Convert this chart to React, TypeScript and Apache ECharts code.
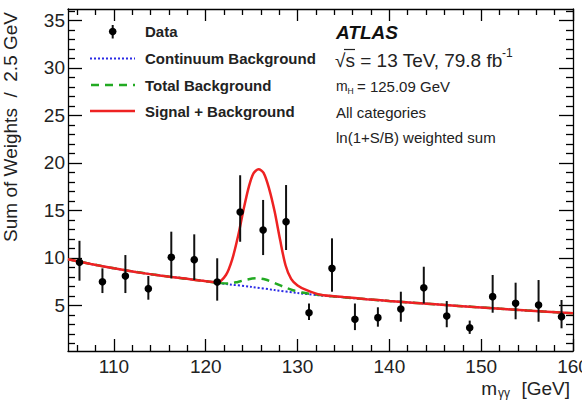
import React, { useEffect, useRef } from "react";
import * as echarts from "echarts";

// ---- data ----
const binCenters = [106.25, 108.75, 111.25, 113.75, 116.25, 118.75, 121.25, 123.75, 126.25, 128.75, 131.25, 133.75, 136.25, 138.75, 141.25, 143.75, 146.25, 148.75, 151.25, 153.75, 156.25, 158.75];
const dataValues = [9.54, 7.49, 8.09, 6.76, 10.06, 9.81, 7.46, 14.83, 12.94, 13.81, 4.23, 8.9, 3.54, 3.71, 4.62, 6.86, 3.88, 2.65, 5.92, 5.22, 5.04, 3.81];
const dataHigh = [11.8, 8.9, 10.3, 8.1, 12.76, 12.48, 9.96, 18.7, 16.1, 17.67, 5.2, 12.06, 5.2, 4.8, 6.44, 9.07, 5.46, 3.4, 8.2, 7.39, 7.67, 5.57];
const dataLow = [7.6, 6.3, 6.3, 5.6, 7.85, 7.67, 5.5, 11.7, 10.3, 10.83, 3.46, 6.44, 2.4, 2.76, 3.28, 5.2, 2.7, 2.0, 4.23, 3.54, 3.28, 2.59];

const contMass = [105, 107.5, 110, 112.5, 115, 117.5, 120, 122.5, 125, 127.5, 130, 132.5, 135, 137.5, 140, 142.5, 145, 147.5, 150, 152.5, 155, 157.5, 160];
const contValues = [9.85, 9.35, 8.9, 8.5, 8.15, 7.85, 7.55, 7.22, 6.95, 6.62, 6.3, 6.05, 5.85, 5.65, 5.46, 5.29, 5.12, 4.95, 4.78, 4.62, 4.46, 4.31, 4.17];

const totalMass = [105, 110, 115, 120, 121.5, 122.5, 123.5, 124.5, 125.5, 126.5, 127.5, 128.5, 129.5, 130.5, 132, 135, 140, 145, 150, 155, 160];
const totalValues = [9.85, 8.9, 8.15, 7.55, 7.35, 7.3, 7.47, 7.72, 7.85, 7.72, 7.36, 6.95, 6.6, 6.35, 6.14, 5.85, 5.46, 5.12, 4.78, 4.46, 4.17];

const sigMass = [105, 107.5, 110, 112.5, 115, 117.5, 120, 121.25, 122.2, 122.9, 123.5, 124.1, 124.7, 125.2, 125.75, 126.3, 126.9, 127.5, 128.1, 128.7, 129.3, 130, 131, 132.5, 135, 137.5, 140, 145, 150, 155, 160];
const sigValues = [9.85, 9.35, 8.9, 8.5, 8.15, 7.85, 7.55, 7.45, 8.2, 9.9, 12.2, 15.0, 17.5, 18.9, 19.33, 18.95, 17.3, 14.9, 11.9, 9.2, 7.8, 7.1, 6.6, 6.12, 5.88, 5.66, 5.46, 5.12, 4.78, 4.46, 4.17];

const xMajorTicks = [110, 120, 130, 140, 150, 160];
const xMinorTicks = [106, 108, 112, 114, 116, 118, 122, 124, 126, 128, 132, 134, 136, 138, 142, 144, 146, 148, 152, 154, 156, 158];
const yMajorTicks = [5, 10, 15, 20, 25, 30, 35];
const yMinorTicks = [1, 2, 3, 4, 6, 7, 8, 9, 11, 12, 13, 14, 16, 17, 18, 19, 21, 22, 23, 24, 26, 27, 28, 29, 31, 32, 33, 34, 36];

const legendLabels = ["Data", "Continuum Background", "Total Background", "Signal + Background"];

const FONT = "'Liberation Sans', Arial, Helvetica, sans-serif";
const TXT = "#222";

export default function App() {
  const ref = useRef<HTMLDivElement>(null);
  useEffect(() => {
    if (!ref.current) return;
    const chart = echarts.init(ref.current, undefined, { renderer: "svg" });
    const X_MIN = 105, X_MAX = 160, Y_MIN = 0.2, Y_MAX = 36.2;
    const lineW = 1.3;
    const mkX = (pos: string, major: boolean, labels: boolean) => ({
      type: "value", min: X_MIN, max: X_MAX, position: pos,
      splitLine: { show: false },
      axisLine: { show: major, onZero: false, lineStyle: { color: "#000", width: lineW } },
      axisTick: { show: true, inside: true, length: major ? 12 : 6, customValues: major ? xMajorTicks : xMinorTicks, lineStyle: { color: "#000", width: lineW } },
      axisLabel: labels ? { show: true, customValues: xMajorTicks, fontSize: 19, color: TXT, fontFamily: FONT, margin: 6 } : { show: false },
    });
    const mkY = (pos: string, major: boolean, labels: boolean) => ({
      type: "value", min: Y_MIN, max: Y_MAX, position: pos,
      splitLine: { show: false },
      axisLine: { show: major, onZero: false, lineStyle: { color: "#000", width: lineW } },
      axisTick: { show: true, inside: true, length: major ? 14 : 7, customValues: major ? yMajorTicks : yMinorTicks, lineStyle: { color: "#000", width: lineW } },
      axisLabel: labels ? { show: true, customValues: yMajorTicks, fontSize: 19, color: TXT, fontFamily: FONT, margin: 3 } : { show: false },
    });

    const legendY = [31, 58.5, 85, 111];
    const graphic: any[] = [
      // legend
      { type: "line", shape: { x1: 112.7, y1: 25, x2: 112.7, y2: 38.5 }, style: { stroke: "#111", lineWidth: 2 } },
      { type: "circle", shape: { cx: 112.7, cy: 31.5, r: 3.8 }, style: { fill: "#000" } },
      { type: "line", shape: { x1: 90, y1: legendY[1], x2: 135, y2: legendY[1] }, style: { stroke: "#2a2ae6", lineWidth: 2, lineDash: [2, 2] } },
      { type: "line", shape: { x1: 91, y1: legendY[2], x2: 135, y2: legendY[2] }, style: { stroke: "#22aa22", lineWidth: 2.5, lineDash: [8, 6] } },
      { type: "line", shape: { x1: 90, y1: legendY[3], x2: 135, y2: legendY[3] }, style: { stroke: "#ee2222", lineWidth: 2.5 } },
      ...legendLabels.map((t, i) => ({
        type: "text", x: 145, y: legendY[i],
        style: { text: t, fontSize: 15, fontWeight: "bold", fill: TXT, fontFamily: FONT, verticalAlign: "middle", align: "left" },
      })),
      // ATLAS block
      { type: "text", x: 336, y: 32, style: { text: "ATLAS", fontSize: 19, fontWeight: "bold", fontStyle: "italic", fill: "#111", fontFamily: FONT, verticalAlign: "middle" } },
      { type: "text", x: 335, y: 60, style: { text: "\u221As = 13 TeV, 79.8 fb", fontSize: 19, fill: TXT, fontFamily: FONT, verticalAlign: "middle" } },
      { type: "line", shape: { x1: 344, y1: 49.5, x2: 355, y2: 49.5 }, style: { stroke: TXT, lineWidth: 1.2 } },
      { type: "text", x: 502, y: 53, style: { text: "-1", fontSize: 12, fill: TXT, fontFamily: FONT, verticalAlign: "middle" } },
      { type: "text", x: 336, y: 86, style: { text: "m", fontSize: 14, fill: TXT, fontFamily: FONT, verticalAlign: "middle" } },
      { type: "text", x: 347.5, y: 91, style: { text: "H", fontSize: 8.5, fill: TXT, fontFamily: FONT, verticalAlign: "middle" } },
      { type: "text", x: 357, y: 86, style: { text: "= 125.09 GeV", fontSize: 15, fill: TXT, fontFamily: FONT, verticalAlign: "middle" } },
      { type: "text", x: 336, y: 112, style: { text: "All categories", fontSize: 15, fill: TXT, fontFamily: FONT, verticalAlign: "middle" } },
      { type: "text", x: 336, y: 137, style: { text: "ln(1+S/B) weighted sum", fontSize: 15, fill: TXT, fontFamily: FONT, verticalAlign: "middle" } },
      // axis titles
      { type: "text", x: 10, y: 12, rotation: Math.PI / 2, style: { text: "Sum of Weights  /  2.5 GeV", fontSize: 19, fill: TXT, fontFamily: FONT, align: "right", verticalAlign: "middle" } },
      { type: "text", x: 497, y: 388, style: { text: "m", fontSize: 19, fill: TXT, fontFamily: FONT, align: "right", verticalAlign: "middle" } },
      { type: "text", x: 498, y: 393, style: { text: "\u03B3\u03B3", fontSize: 12, fill: TXT, fontFamily: FONT, align: "left", verticalAlign: "middle" } },
      { type: "text", x: 570, y: 388, style: { text: "[GeV]", fontSize: 19, fill: TXT, fontFamily: FONT, align: "right", verticalAlign: "middle" } },
    ];

    chart.setOption({
      animation: false,
      backgroundColor: "#fff",
      grid: { left: 68, right: 9, top: 9, bottom: 50, containLabel: false, outerBoundsMode: "none" },
      xAxis: [mkX("bottom", true, true), mkX("bottom", false, false), mkX("top", true, false), mkX("top", false, false)],
      yAxis: [mkY("left", true, true), mkY("left", false, false), mkY("right", true, false), mkY("right", false, false)],
      graphic,
      series: [
        {
          type: "line", name: legendLabels[1], xAxisIndex: 0, yAxisIndex: 0, z: 2,
          data: contMass.map((m, i) => [m, contValues[i]]),
          showSymbol: false, symbol: "none", smooth: 0.3,
          lineStyle: { color: "#2a2ae6", width: 2, type: [2, 2] },
        },
        {
          type: "line", name: legendLabels[2], xAxisIndex: 0, yAxisIndex: 0, z: 3,
          data: totalMass.map((m, i) => [m, totalValues[i]]),
          showSymbol: false, symbol: "none", smooth: 0.3,
          lineStyle: { color: "#22aa22", width: 2.5, type: [8, 6] },
        },
        {
          type: "line", name: legendLabels[3], xAxisIndex: 0, yAxisIndex: 0, z: 4,
          data: sigMass.map((m, i) => [m, sigValues[i]]),
          showSymbol: false, symbol: "none", smooth: 0.3,
          lineStyle: { color: "#ee2222", width: 2.5 },
        },
        {
          type: "custom", name: legendLabels[0], xAxisIndex: 0, yAxisIndex: 0, z: 10,
          data: binCenters.map((m, i) => [m, dataValues[i], dataLow[i], dataHigh[i]]),
          encode: { x: 0, y: 1 },
          renderItem: (_params: any, api: any) => {
            const p = api.coord([api.value(0), api.value(1)]);
            const lo = api.coord([api.value(0), api.value(2)]);
            const hi = api.coord([api.value(0), api.value(3)]);
            return {
              type: "group",
              children: [
                { type: "line", shape: { x1: p[0], y1: lo[1], x2: p[0], y2: hi[1] }, style: { stroke: "#111", lineWidth: 2 } },
                { type: "circle", shape: { cx: p[0], cy: p[1], r: 3.8 }, style: { fill: "#000" } },
              ],
            };
          },
        },
      ],
    });
    return () => chart.dispose();
  }, []);
  return <div ref={ref} style={{ position: "fixed", left: 0, top: 0, width: 582, height: 401, background: "#fff" }} />;
}
